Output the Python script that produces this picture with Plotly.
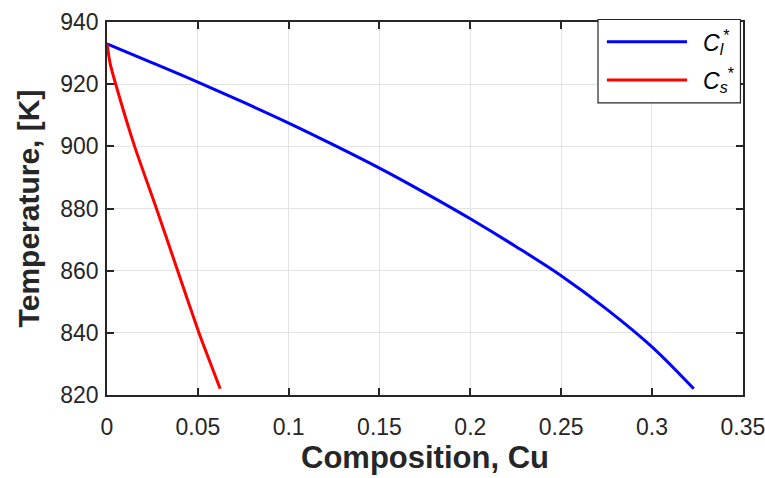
import plotly.graph_objects as go

# Liquidus composition C_l* (blue)
cl_x = [0.0, 0.025, 0.05, 0.075, 0.10, 0.125, 0.15, 0.175, 0.20, 0.225, 0.25, 0.275, 0.30, 0.323]
cl_T = [933.0, 926.9, 920.7, 914.2, 907.5, 900.4, 893.0, 885.05, 876.7, 867.8, 858.4, 847.65, 835.5, 822.0]

# Solidus composition C_s* (red)
cs_x = [0.0, 0.0017, 0.0048, 0.0152, 0.0272, 0.0389, 0.0506, 0.0623]
cs_T = [933.0, 926.7, 920.0, 900.0, 880.0, 860.0, 840.0, 822.0]

x_ticks = [0, 0.05, 0.1, 0.15, 0.2, 0.25, 0.3, 0.35]
x_tick_labels = ["0", "0.05", "0.1", "0.15", "0.2", "0.25", "0.3", "0.35"]
y_ticks = [820, 840, 860, 880, 900, 920, 940]

legend_names = ["<i>C</i><sub><i>l</i></sub><sup>*</sup>", "<i>C</i><sub><i>s</i></sub><sup>*</sup>"]
colors = ["#0000ff", "#ff0000"]

FONT = "Liberation Sans, Arial, Helvetica, sans-serif"
DARK = "#262626"

fig = go.Figure()
fig.add_trace(go.Scatter(x=cl_x, y=cl_T, mode="lines",
                         line=dict(color=colors[0], width=3, shape="spline", smoothing=1.0),
                         name="C_l*", showlegend=False))
fig.add_trace(go.Scatter(x=cs_x, y=cs_T, mode="lines",
                         line=dict(color=colors[1], width=3, shape="spline", smoothing=0.5),
                         name="C_s*", showlegend=False))

axis_common = dict(
    showline=True, linecolor=DARK, linewidth=1.5, mirror="ticks",
    ticks="inside", ticklen=7, tickwidth=1.5, tickcolor=DARK,
    showgrid=True, gridcolor="#e3e3e3", gridwidth=1,
    zeroline=False, automargin=False, ticklabeloverflow="allow",
    tickfont=dict(family=FONT, size=23, color=DARK),
)

fig.update_xaxes(range=[0, 0.3501], tickvals=x_ticks, ticktext=x_tick_labels,
                 title=dict(text="<b>Composition, Cu</b>", font=dict(family=FONT, size=31, color=DARK), standoff=6),
                 ticklabelstandoff=11, **axis_common)
fig.update_yaxes(range=[820, 940.02], tickvals=y_ticks,
                 title=dict(text="<b>Temperature, [K]</b>", font=dict(family=FONT, size=30, color=DARK), standoff=12),
                 ticklabelstandoff=2, **axis_common)

# Legend box drawn manually (MATLAB style)
shapes = [
    dict(type="rect", xref="paper", yref="paper", x0=0.772, x1=0.996, y0=0.783, y1=1.0067,
         line=dict(color=DARK, width=1.2), fillcolor="white", layer="above"),
]
line_ys = [0.947, 0.8445]
annotations = []
for name, col, ly in zip(legend_names, colors, line_ys):
    shapes.append(dict(type="line", xref="paper", yref="paper", x0=0.786, x1=0.912, y0=ly, y1=ly,
                       line=dict(color=col, width=3), layer="above"))
    annotations.append(dict(xref="paper", yref="paper", x=0.934, y=ly, xanchor="left", yanchor="middle",
                            text=name, showarrow=False, font=dict(family=FONT, size=23, color="black")))

fig.update_layout(
    width=765, height=478,
    margin=dict(l=107, r=22, t=22, b=83),
    paper_bgcolor="white", plot_bgcolor="white",
    shapes=shapes, annotations=annotations,
    showlegend=False,
)

fig.write_html("out.html", config={"displayModeBar": False},
               post_script="document.body.style.margin='0';document.body.style.overflow='hidden';")
